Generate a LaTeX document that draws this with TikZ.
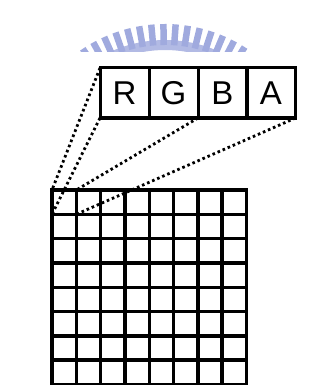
\documentclass[tikz,border=0pt]{standalone}
\usepackage{fontspec}
\setmainfont{Liberation Sans}
\definecolor{wmdark}{RGB}{160,170,222}
\definecolor{wmlight}{RGB}{178,186,228}
\begin{document}
\begin{tikzpicture}[x=1pt,y=-1pt,
  chan/.style={draw,line width=3pt,minimum width=49pt,minimum height=50pt,inner sep=0pt,outer sep=0pt,font=\fontsize{33}{33}\selectfont},
  pix/.style={draw,line width=3.4pt,minimum size=24.3pt,inner sep=0pt,outer sep=0pt},
  link/.style={line width=2.8pt,dash pattern=on 2.6pt off 2.9pt},
  wmtick/.style={wmdark,line width=6.5pt}]
\useasboundingbox (0,0) rectangle (325,385);
% faint watermark seal (top of a ring of ticks, cut off)
\begin{scope}
  \clip (0,0) rectangle (325,52);
  \draw[wmlight,line width=10pt] ([shift={(165,173)}]-52:128) arc[start angle=-52,end angle=-128,radius=128];
  \foreach \a in {53,57.7,...,127.5}
    \draw[wmtick] ([shift={(165,173)}]-\a:128) -- ([shift={(165,173)}]-\a:149);
\end{scope}
% RGBA channels
\node[chan] (R) at (124.5,93) {R};
\node[chan] (G) at (173.5,93) {G};
\node[chan] (B) at (222.5,93) {B};
\node[chan] (A) at (271.0,93) {A};
% pixel grid
\foreach \i in {0,...,7}
  \foreach \j in {0,...,7}
    \node[pix] (c\i\j) at ({52+24.3*(\i+0.5)},{190+24.3*(\j+0.5)}) {};
% zoom lines
\draw[link] (R.north west) -- (c00.north west);
\draw[link] (R.south west) -- (c00.south west);
\draw[link] (B.south west) -- (c00.north east);
\draw[link] (A.south east) -- (c00.south east);
\end{tikzpicture}
\end{document}
